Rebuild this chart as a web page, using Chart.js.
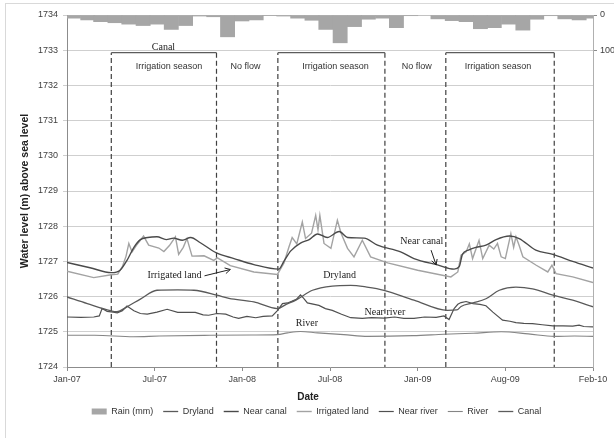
<!DOCTYPE html>
<html>
<head>
<meta charset="utf-8">
<script src="https://cdn.jsdelivr.net/npm/chart.js@4.4.1/dist/chart.umd.min.js"></script>
<style>
  html, body { margin: 0; padding: 0; background: #fff; }
</style>
</head>
<body>
<canvas id="chart" width="614" height="438"></canvas>
<script>
// x values are days from the start of the axis (1 Jan 2007), one tick every 190 days
const tickLabels = ["Jan-07", "Jul-07", "Jan-08", "Jul-08", "Jan-09", "Aug-09", "Feb-10"];

// monthly rain (mm)
const rainMonths = [
  "2007-01","2007-02","2007-03","2007-04","2007-05","2007-06","2007-07","2007-08","2007-09","2007-10","2007-11","2007-12",
  "2008-01","2008-02","2008-03","2008-04","2008-05","2008-06","2008-07","2008-08","2008-09","2008-10","2008-11","2008-12",
  "2009-01","2009-02","2009-03","2009-04","2009-05","2009-06","2009-07","2009-08","2009-09","2009-10","2009-11","2009-12",
  "2010-01","2010-02"
];
const rainMm = [9, 14, 19, 22, 26, 30, 26, 41, 30, 3, 5, 62,
                17, 14, 1, 3, 9, 15, 41, 79, 33, 12, 9, 36,
                2, 0, 11, 16, 19, 39, 36, 26, 43, 12, 2, 11,
                14, 9];

// water levels (m a.s.l.)
const drylandDays = [0, 44, 94, 108, 130, 159, 195, 240, 275, 325, 351, 405, 456, 475, 496, 532, 575, 615, 650, 687, 752, 824, 845, 854, 880, 908, 937, 973, 1009, 1053, 1096, 1140];
const drylandLevel = [1725.99, 1725.80, 1725.60, 1725.57, 1725.71, 1725.93, 1726.18, 1726.19, 1726.18, 1726.04, 1725.95, 1725.85, 1725.66, 1725.78, 1725.90, 1726.18, 1726.30, 1726.32, 1726.27, 1726.18, 1725.90, 1725.61, 1725.62, 1725.72, 1725.82, 1725.94, 1726.18, 1726.27, 1726.22, 1726.04, 1725.90, 1725.71];

const nearCanalDays = [0, 50, 96, 115, 130, 145, 159, 175, 195, 215, 231, 250, 268, 289, 324, 362, 405, 459, 470, 485, 506, 525, 543, 564, 590, 608, 644, 673, 723, 752, 803, 839, 850, 857, 870, 886, 908, 930, 959, 980, 1016, 1053, 1096, 1140];
const nearCanalLevel = [1726.97, 1726.82, 1726.68, 1726.75, 1727.03, 1727.40, 1727.62, 1727.68, 1727.70, 1727.62, 1727.66, 1727.60, 1727.68, 1727.53, 1727.24, 1727.08, 1726.91, 1726.78, 1727.00, 1727.30, 1727.52, 1727.62, 1727.78, 1727.68, 1727.85, 1727.68, 1727.66, 1727.46, 1727.27, 1727.08, 1726.90, 1726.78, 1726.85, 1727.20, 1727.32, 1727.40, 1727.46, 1727.62, 1727.72, 1727.65, 1727.32, 1727.20, 1727.00, 1726.81];

const irrigatedDays = [0, 58, 96, 110, 120, 128, 134, 141, 150, 159, 166, 177, 199, 210, 222, 235, 242, 252, 260, 271, 297, 318, 326, 354, 405, 456, 470, 481, 488, 498, 510, 517, 530, 539, 544, 548, 557, 572, 586, 594, 608, 622, 640, 658, 695, 760, 832, 847, 854, 865, 872, 879, 893, 901, 915, 925, 933, 941, 950, 962, 968, 973, 980, 988, 1017, 1042, 1051, 1060, 1096, 1140];
const irrigatedLevel = [1726.72, 1726.54, 1726.62, 1726.64, 1726.85, 1727.15, 1727.51, 1727.27, 1727.45, 1727.60, 1727.72, 1727.46, 1727.38, 1727.28, 1727.45, 1727.70, 1727.20, 1727.40, 1727.65, 1727.15, 1727.16, 1727.03, 1727.10, 1726.88, 1726.70, 1726.63, 1726.95, 1727.41, 1727.68, 1727.50, 1728.12, 1727.65, 1727.80, 1728.31, 1727.90, 1728.31, 1727.51, 1727.37, 1728.17, 1727.80, 1727.37, 1727.13, 1727.60, 1727.13, 1726.96, 1726.75, 1726.56, 1726.70, 1727.18, 1727.27, 1727.50, 1727.08, 1727.60, 1727.08, 1727.46, 1727.35, 1727.51, 1727.13, 1727.08, 1727.79, 1727.40, 1727.70, 1727.45, 1727.13, 1726.89, 1726.70, 1726.89, 1726.65, 1726.56, 1726.40];

const nearRiverDays = [0, 30, 58, 70, 76, 87, 100, 109, 120, 130, 145, 159, 174, 195, 217, 240, 260, 278, 295, 307, 325, 344, 360, 372, 390, 409, 425, 445, 456, 467, 478, 488, 497, 506, 513, 521, 546, 560, 575, 595, 615, 640, 660, 687, 710, 730, 752, 775, 800, 817, 828, 839, 847, 854, 865, 880, 895, 908, 923, 944, 960, 973, 990, 1009, 1030, 1053, 1075, 1096, 1110, 1120, 1140];
const nearRiverLevel = [1725.42, 1725.41, 1725.42, 1725.45, 1725.66, 1725.58, 1725.56, 1725.54, 1725.60, 1725.73, 1725.60, 1725.52, 1725.50, 1725.56, 1725.64, 1725.55, 1725.55, 1725.55, 1725.48, 1725.47, 1725.52, 1725.50, 1725.42, 1725.38, 1725.44, 1725.40, 1725.44, 1725.45, 1725.60, 1725.80, 1725.82, 1725.87, 1725.92, 1726.05, 1725.95, 1725.82, 1725.75, 1725.66, 1725.61, 1725.50, 1725.40, 1725.38, 1725.40, 1725.39, 1725.42, 1725.38, 1725.38, 1725.42, 1725.41, 1725.45, 1725.35, 1725.66, 1725.78, 1725.83, 1725.86, 1725.80, 1725.78, 1725.74, 1725.56, 1725.33, 1725.30, 1725.26, 1725.24, 1725.23, 1725.20, 1725.17, 1725.17, 1725.16, 1725.19, 1725.15, 1725.14];

const riverDays = [0, 60, 144, 200, 310, 400, 456, 478, 506, 543, 600, 652, 750, 817, 880, 941, 1000, 1056, 1100, 1140];
const riverLevel = [1724.90, 1724.90, 1724.86, 1724.88, 1724.90, 1724.91, 1724.92, 1724.97, 1725.01, 1724.97, 1724.92, 1724.87, 1724.89, 1724.93, 1724.96, 1725.00, 1724.94, 1724.87, 1724.88, 1724.87];

// canal flowing: start and end day of each irrigation season, drawn as boxes
const canalStart = [96, 457, 821];
const canalEnd = [324, 689, 1056];
const canalTop = 1732.93;
const axisBottom = 1724;

function dayOf(month) {
  const [yy, mm] = month.split("-").map(Number);
  return (Date.UTC(yy, mm - 1, 15) - Date.UTC(2007, 0, 1)) / 86400000;
}
function pts(days, levels) {
  return days.map((d, i) => ({ x: d, y: levels[i] }));
}

const canalTops = [];
const canalEdges = [];
canalStart.forEach((s, i) => {
  const e = canalEnd[i];
  canalTops.push({ x: s, y: canalTop }, { x: e, y: canalTop }, { x: e, y: null });
  canalEdges.push({ x: s, y: axisBottom }, { x: s, y: canalTop }, { x: s, y: null },
                  { x: e, y: canalTop }, { x: e, y: axisBottom }, { x: e, y: null });
});

Chart.defaults.font.family = "'Liberation Sans', Arial, sans-serif";
Chart.defaults.font.size = 9;
Chart.defaults.color = "#404040";

function line(label, data, color, width, smooth) {
  return {
    type: "line", label: label, data: data,
    borderColor: color, backgroundColor: color, borderWidth: width,
    pointRadius: 0, pointStyle: "line", spanGaps: false,
    cubicInterpolationMode: smooth ? "monotone" : "default", tension: 0
  };
}

// notes drawn on top: season labels, series labels, arrows, x title, frame
const notes = {
  id: "notes",
  afterDraw(chart) {
    const { ctx, scales } = chart;
    const X = d => scales.x.getPixelForValue(d);
    const Y = v => scales.y.getPixelForValue(v);
    ctx.save();
    ctx.textAlign = "center";
    ctx.textBaseline = "middle";

    ctx.fillStyle = "#333";
    ctx.font = "9px 'Liberation Sans', Arial, sans-serif";
    [["Irrigation season", 221], ["No flow", 387], ["Irrigation season", 582],
     ["No flow", 758], ["Irrigation season", 934]].forEach(s => {
      ctx.fillText(s[0], X(s[1]), Y(1732.55));
    });

    ctx.fillStyle = "#222";
    ctx.font = "10px 'Liberation Serif', 'Times New Roman', serif";
    ctx.fillText("Canal", X(209), Y(1733.09));
    ctx.fillText("Irrigated land", X(233), Y(1726.61));
    ctx.fillText("Dryland", X(591), Y(1726.61));
    ctx.fillText("Near canal", X(769), Y(1727.58));
    ctx.fillText("Near river", X(689), Y(1725.56));
    ctx.fillText("River", X(520), Y(1725.25));

    // arrows
    ctx.strokeStyle = "#222";
    ctx.lineWidth = 1;
    function arrow(x0, y0, x1, y1) {
      const a = Math.atan2(y1 - y0, x1 - x0);
      ctx.beginPath();
      ctx.moveTo(x0, y0);
      ctx.lineTo(x1, y1);
      ctx.moveTo(x1 - 6 * Math.cos(a - 0.5), y1 - 6 * Math.sin(a - 0.5));
      ctx.lineTo(x1, y1);
      ctx.lineTo(x1 - 6 * Math.cos(a + 0.5), y1 - 6 * Math.sin(a + 0.5));
      ctx.stroke();
    }
    arrow(X(298), Y(1726.59), X(354), Y(1726.77));
    arrow(X(789), Y(1727.32), X(800), Y(1726.90));

    // x axis title
    ctx.fillStyle = "#222";
    ctx.font = "bold 10px 'Liberation Sans', Arial, sans-serif";
    ctx.fillText("Date", 308, 397);

    // chart frame
    ctx.strokeStyle = "#d9d9d9";
    ctx.strokeRect(5.5, 3.5, 640, 460);
    ctx.restore();
  }
};

new Chart(document.getElementById("chart"), {
  data: {
    datasets: [
      {
        type: "bar", label: "Rain (mm)", yAxisID: "y1",
        data: rainMonths.map((m, i) => ({ x: dayOf(m), y: rainMm[i] })),
        backgroundColor: "#a6a6a6", borderWidth: 0, barThickness: 14.2, pointStyle: "rect"
      },
      line("Dryland", pts(drylandDays, drylandLevel), "#5a5a5a", 1.3, true),
      line("Near canal", pts(nearCanalDays, nearCanalLevel), "#4a4a4a", 1.4, true),
      line("Irrigated land", pts(irrigatedDays, irrigatedLevel), "#a3a3a3", 1.4, false),
      line("Near river", pts(nearRiverDays, nearRiverLevel), "#505050", 1.2, false),
      line("River", pts(riverDays, riverLevel), "#858585", 1.1, true),
      line("Canal", canalTops, "#5c5c5c", 1.3, false),
      Object.assign(line("Canal edges", canalEdges, "#404040", 1.2, false), { borderDash: [5, 3] })
    ]
  },
  options: {
    responsive: false,
    animation: false,
    layout: { padding: { left: 19, right: 0, top: 15, bottom: 12 } },
    plugins: {
      tooltip: { enabled: false },
      legend: {
        position: "bottom",
        labels: {
          usePointStyle: true, pointStyleWidth: 15, boxHeight: 6,
          padding: 10, color: "#333", font: { size: 9 },
          filter: item => item.text !== "Canal edges"
        }
      }
    },
    scales: {
      x: {
        type: "linear", min: 0, max: 1140, offset: false,
        ticks: {
          stepSize: 190, autoSkip: false, maxRotation: 0, padding: 3,
          callback: v => tickLabels[Math.round(v / 190)]
        },
        grid: { drawOnChartArea: false, offset: false, tickLength: 4, color: "#8c8c8c" },
        border: { color: "#8c8c8c" },
        afterFit: s => { s.height = 30; }
      },
      y: {
        position: "left", min: 1724, max: 1734,
        ticks: { stepSize: 1, padding: 5, callback: v => String(v) },
        grid: { color: "#cfcfcf", tickLength: 4 },
        border: { color: "#8c8c8c" },
        title: {
          display: true, text: "Water level (m) above sea level",
          font: { size: 10.5, weight: "bold" }, color: "#222", padding: 0
        },
        afterFit: s => { s.width = 48; }
      },
      y1: {
        position: "right", reverse: true, min: 0, max: 1000,
        ticks: { stepSize: 100, padding: 3, callback: v => String(v) },
        afterBuildTicks: s => { s.ticks = s.ticks.filter(t => t.value <= 100); },
        grid: { drawOnChartArea: false, tickLength: 4, color: "#8c8c8c" },
        border: { color: "#b0b0b0" },
        afterFit: s => { s.width = 21; }
      }
    }
  },
  plugins: [notes]
});
</script>
</body>
</html>
